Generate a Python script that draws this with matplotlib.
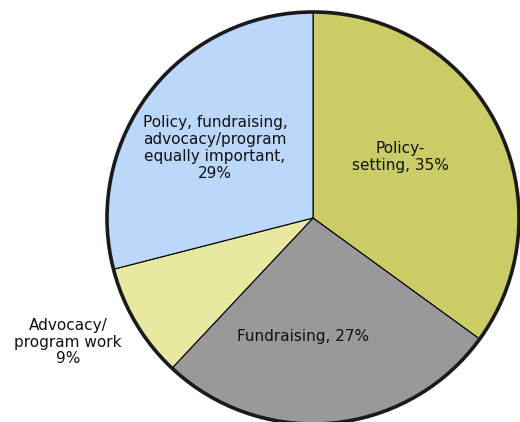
import matplotlib.pyplot as plt
from matplotlib.patches import Circle

labels = ["Policy-\nsetting, 35%", "Fundraising, 27%",
          "Advocacy/\nprogram work\n9%",
          "Policy, fundraising,\nadvocacy/program\nequally important,\n29%"]
shares = [35, 27, 9, 29]
colors = ["#cccc66", "#999999", "#e8e8a0", "#bbd8fb"]

W, H = 520, 422
fig = plt.figure(figsize=(W / 100, H / 100), dpi=100)
ax = fig.add_axes([0, 0, 1, 1])

# work in pixel-like units, y measured from the bottom
cx, cy, r = 313, H - 218, 206
ax.pie(shares, colors=colors, startangle=90, counterclock=False,
       center=(cx, cy), radius=r,
       wedgeprops=dict(edgecolor="black", linewidth=0.8))
ax.add_patch(Circle((cx, cy), r, fill=False, edgecolor="#1a1a1a", linewidth=2.6))

ax.set_xlim(0, W)
ax.set_ylim(0, H)
ax.set_aspect("equal")
ax.axis("off")

pos = [(400, H - 157), (303, H - 337), (68, H - 342), (215, H - 148)]
for (x, y), txt in zip(pos, labels):
    ax.text(x, y, txt, ha="center", va="center", fontsize=11,
            family="DejaVu Sans", color="#111111", linespacing=1.15)

fig.savefig("out.png", dpi=100)
